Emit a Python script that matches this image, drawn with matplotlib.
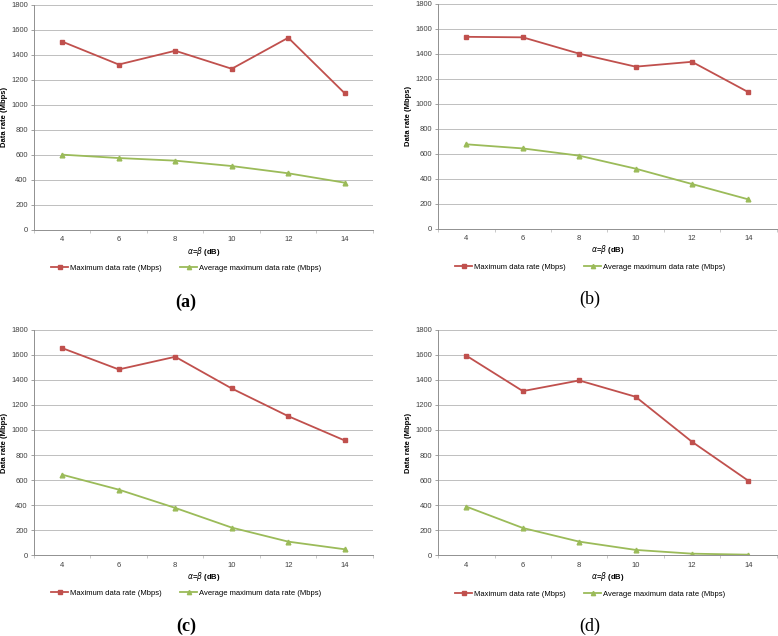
import matplotlib.pyplot as plt
from matplotlib.ticker import FixedLocator

plt.rcParams["font.family"] = ["Liberation Sans", "DejaVu Sans"]

alpha_beta = [4, 6, 8, 10, 12, 14]

max_rate_a = [1505, 1322, 1432, 1288, 1536, 1092]
avg_rate_a = [602, 575, 554, 511, 453, 378]

max_rate_b = [1537, 1533, 1402, 1298, 1337, 1094]
avg_rate_b = [676, 643, 585, 481, 358, 235]

max_rate_c = [1653, 1483, 1584, 1331, 1110, 916]
avg_rate_c = [643, 524, 378, 221, 109, 48]

max_rate_d = [1592, 1310, 1395, 1265, 906, 595]
avg_rate_d = [388, 218, 109, 43, 13, 5]

panel_names = ["(a)", "(b)", "(c)", "(d)"]
y_ticks = [0, 200, 400, 600, 800, 1000, 1200, 1400, 1600, 1800]

W, H = 778, 636
RED = "#C0504D"
GREEN = "#9BBB59"
GRID = "#BFBFBF"

fig = plt.figure(figsize=(W / 100, H / 100), dpi=100)

# Положение каждой панели в пикселях: left, right, top, bottom, центры подписей
panels = [
    dict(l=34, r=373, t=4.7, b=230, cx=186, xl=251, lg=268, pl=302, yl=5, bold=True),
    dict(l=438.3, r=776.5, t=4.0, b=228.7, cx=590, xl=249, lg=267, pl=299, yl=409, bold=False),
    dict(l=34, r=373, t=329.7, b=555.3, cx=186, xl=576.5, lg=593, pl=626, yl=5, bold=True),
    dict(l=438.3, r=776.5, t=329.7, b=555.3, cx=590, xl=576.5, lg=594, pl=626, yl=409, bold=False),
]
series = [
    (max_rate_a, avg_rate_a),
    (max_rate_b, avg_rate_b),
    (max_rate_c, avg_rate_c),
    (max_rate_d, avg_rate_d),
]

for p, (mx, av), name in zip(panels, series, panel_names):
    ax = fig.add_axes([p["l"] / W, 1 - p["b"] / H, (p["r"] - p["l"]) / W, (p["b"] - p["t"]) / H])
    ax.plot(alpha_beta, mx, "-s", color=RED, lw=1.3, ms=3.2, label="Maximum data rate (Mbps)")
    ax.plot(alpha_beta, av, "-^", color=GREEN, lw=1.3, ms=3.4, label="Average maximum data rate (Mbps)")

    ax.set_xlim(3, 15)
    ax.set_ylim(0, 1800)
    ax.set_yticks(y_ticks)
    ax.set_xticks(alpha_beta)
    ax.xaxis.set_minor_locator(FixedLocator([3, 5, 7, 9, 11, 13, 15]))
    ax.tick_params(axis="x", which="major", length=0, labelsize=5.5, colors="#404040", pad=4.5)
    ax.tick_params(axis="x", which="minor", length=2.5, width=0.6, color=GRID)
    ax.tick_params(axis="y", length=2.5, width=0.6, color="#909090", labelsize=5.5,
                   labelcolor="#404040", pad=2)
    ax.grid(axis="y", color=GRID, lw=0.7)
    ax.set_axisbelow(True)
    for s in ["top", "right"]:
        ax.spines[s].set_visible(False)
    for s in ["left", "bottom"]:
        ax.spines[s].set_color("#909090")
        ax.spines[s].set_linewidth(0.7)

    fig.text(p["yl"] / W, 1 - (p["t"] + p["b"]) / 2 / H, "Data rate (Mbps)", rotation=90,
             ha="center", va="center", fontsize=5.5, fontweight="bold")
    fig.text((p["l"] + p["r"]) / 2 / W, 1 - p["xl"] / H, r"$\alpha$=$\beta$ (dB)",
             ha="center", va="center", fontsize=5.5, fontweight="bold")
    ax.legend(loc="center", bbox_to_anchor=(p["cx"] / W, 1 - p["lg"] / H),
              bbox_transform=fig.transFigure, ncol=2, frameon=False, fontsize=5.5,
              handlelength=2.2, handletextpad=0.2, columnspacing=2.5, markerscale=0.9)
    fig.text(p["cx"] / W, 1 - p["pl"] / H, name, ha="center", va="center", fontsize=13,
             family="Liberation Serif", fontweight="bold" if p["bold"] else "normal")

fig.savefig("out.png", dpi=100)
